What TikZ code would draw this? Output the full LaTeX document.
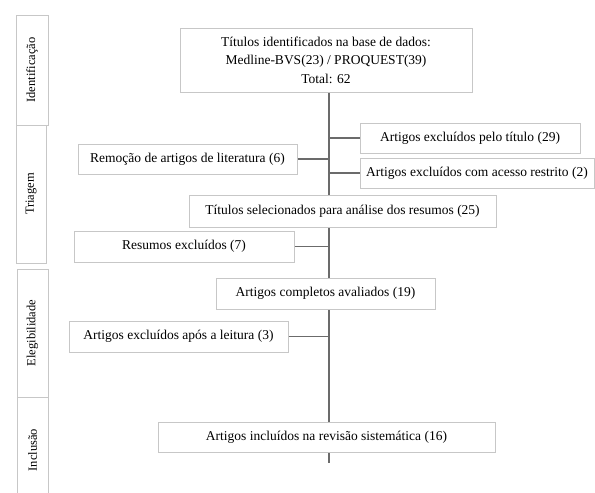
\documentclass[tikz,border=0pt]{standalone}
\usepackage{fontspec}
\setmainfont{Liberation Serif}
\usepackage{tikz}

\definecolor{borda}{gray}{0.78}
\definecolor{linha}{gray}{0.42}

\begin{document}
\begin{tikzpicture}[x=1pt, y=-1pt,
	caixa/.style={draw=borda, fill=white, line width=1pt, inner sep=0pt, minimum height=30pt, font=\fontsize{13.5}{18.5}\selectfont, align=center},
	fase/.style={draw=borda, line width=1pt, inner sep=0pt, rotate=90, font=\fontsize{12.5}{14}\selectfont},
	liga/.style={draw=linha, line width=1.2pt}]
	\useasboundingbox (0,0) rectangle (595,493);
	% etapas
	\node[fase, minimum width=110pt, minimum height=32pt] at (32,70) (ident){Identificação};
	\node[fase, minimum width=138pt, minimum height=30pt] at (31,194) (triag){Triagem};
	\node[fase, minimum width=128pt, minimum height=31pt] at (32.5,333) (eleg){Elegibilidade};
	\draw[draw=borda, line width=1pt] (17,493) |- (48,397) -- (48,493);
	\node[font=\fontsize{12.5}{14}\selectfont, rotate=90] at (32.5,450) (incl){Inclusão};
	% eixo central
	\coordinate (fim) at (329,463);
	\node[caixa, minimum width=292pt, minimum height=64pt] at (326,60) (titulos){Títulos identificados na base de dados:\\Medline-BVS(23) / PROQUEST(39)\\Total: 62};
	\draw[liga] (titulos.south -| fim) -- (fim);
	\node[caixa, minimum width=220pt] at (470,138) (pelotitulo){Artigos excluídos pelo título (29)};
	\node[caixa, minimum width=234pt] at (477,173) (restrito){Artigos excluídos com acesso restrito (2)};
	\node[caixa, minimum width=219pt] at (187.5,159) (remocao){Remoção de artigos de literatura (6)};
	\node[caixa, minimum width=307pt, minimum height=32pt] at (342.5,211) (selecionados){Títulos selecionados para análise dos resumos (25)};
	\node[caixa, minimum width=220pt, minimum height=31pt] at (184,246.5) (resumos){Resumos excluídos (7)};
	\node[caixa, minimum width=219pt, minimum height=31pt] at (325.5,293.5) (completos){Artigos completos avaliados (19)};
	\node[caixa, minimum width=219pt, minimum height=31pt] at (178.5,336.5) (leitura){Artigos excluídos após a leitura (3)};
	\node[caixa, minimum width=337pt] at (326.5,437) (incluidos){Artigos incluídos na revisão sistemática (16)};
	\draw[liga] (pelotitulo.west) -- (pelotitulo.west -| fim);
	\draw[liga] (restrito.west) -- (restrito.west -| fim);
	\draw[liga] (remocao.east) -- (remocao.east -| fim);
	\draw[liga] (resumos.east) -- (resumos.east -| fim);
	\draw[liga] (leitura.east) -- (leitura.east -| fim);
\end{tikzpicture}
\end{document}
